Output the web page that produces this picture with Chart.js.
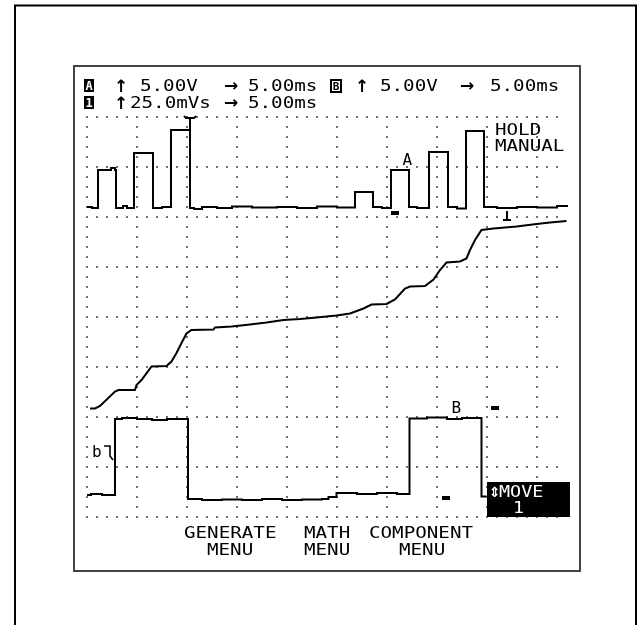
<!DOCTYPE html>
<html><head><meta charset="utf-8">
<script src="https://cdn.jsdelivr.net/npm/chart.js@4"></script>
<style>html,body{margin:0;padding:0;background:#fff;overflow:hidden}canvas{display:block}</style>
</head><body>
<canvas id="c" width="638" height="625"></canvas>
<script>
// axis ranges in screen divisions
const xRange = [0, 9.6];
const yRange = [0, 8];
const gridX = [0, 1, 2, 3, 4, 5, 6, 7, 8, 9];
const gridY = [0, 1, 2, 3, 4, 5, 6, 7, 8];

// Trace A (step levels, each level starts at x)
const traceA_x = [0, 0.10, 0.22, 0.48, 0.56, 0.58, 0.72, 0.80, 0.94, 1.32, 1.50, 1.68, 2.06, 2.14, 2.30, 2.60, 2.90, 3.30, 3.80, 4.20, 4.60, 5.00, 5.36, 5.72, 5.90, 6.08, 6.44, 6.60, 6.84, 7.22, 7.40, 7.58, 7.94, 8.20, 8.60, 9.00, 9.40, 9.60];
const traceA_y = [6.20, 6.18, 6.94, 6.98, 6.94, 6.18, 6.22, 6.18, 7.28, 6.18, 6.20, 7.74, 6.18, 6.16, 6.20, 6.18, 6.21, 6.19, 6.20, 6.18, 6.21, 6.19, 6.50, 6.20, 6.18, 6.94, 6.20, 6.18, 7.30, 6.20, 6.17, 7.72, 6.20, 6.18, 6.20, 6.19, 6.22, 6.24];

// Trace 1 (integral ramp)
const ramp_x = [0.06, 0.16, 0.26, 0.56, 0.63, 0.96, 0.99, 1.09, 1.29, 1.59, 1.69, 1.79, 1.89, 1.99, 2.09, 2.53, 2.56, 2.89, 3.26, 3.59, 3.93, 4.26, 4.59, 4.99, 5.26, 5.53, 5.69, 5.99, 6.16, 6.36, 6.46, 6.76, 6.93, 7.06, 7.19, 7.46, 7.59, 7.66, 7.76, 7.89, 8.13, 8.59, 8.99, 9.26, 9.59];
const ramp_y = [2.17, 2.17, 2.22, 2.51, 2.54, 2.54, 2.64, 2.74, 3.01, 3.02, 3.11, 3.28, 3.48, 3.67, 3.74, 3.75, 3.79, 3.81, 3.85, 3.89, 3.94, 3.96, 3.99, 4.03, 4.07, 4.17, 4.25, 4.26, 4.35, 4.57, 4.61, 4.62, 4.75, 4.94, 5.09, 5.11, 5.17, 5.34, 5.54, 5.74, 5.77, 5.81, 5.86, 5.89, 5.92];

// Trace B (step levels)
const traceB_x = [0, 0.08, 0.30, 0.56, 0.70, 1.00, 1.30, 1.60, 2.02, 2.30, 2.70, 3.10, 3.50, 3.90, 4.30, 4.70, 4.83, 4.99, 5.40, 5.80, 6.20, 6.45, 6.80, 7.20, 7.50, 7.89, 7.99];
const traceB_y = [0.44, 0.46, 0.44, 1.96, 1.98, 1.96, 1.94, 1.96, 0.36, 0.34, 0.35, 0.34, 0.36, 0.34, 0.35, 0.36, 0.40, 0.48, 0.46, 0.48, 0.46, 1.97, 1.99, 1.96, 1.98, 0.41, 0.41];

// markers (division coordinates)
const markerT = {x: 2.06, yTop: 7.98, yFrom: 7.74};
const triggerBars = [[6.08, 6.12, 6.24, 6.04], [8.08, 2.22, 8.24, 2.14], [7.10, 0.42, 7.26, 0.34]];
const trigT = {x: 8.40, y1: 6.12, y2: 5.94, half: 0.08};
const labelA = {t: 'A', x: 6.31, y: 7.04};
const labelB = {t: 'B', x: 7.29, y: 2.08};
const labelHold = [{t: 'HOLD', x: 8.16, y: 7.64}, {t: 'MANUAL', x: 8.16, y: 7.32}];

const pts = (xs, ys) => xs.map((x, i) => ({x, y: ys[i]}));
const FONT = '16px "DejaVu Sans Mono", "Liberation Mono", monospace';

function txt(ctx, s, x, y, color, sx, font) {
  ctx.save();
  ctx.fillStyle = color || '#000';
  ctx.font = font || FONT;
  ctx.textBaseline = 'alphabetic';
  ctx.textAlign = 'left';
  ctx.translate(x, y);
  ctx.scale(sx || 1.2, 1);
  ctx.fillText(s, 0, 0);
  ctx.restore();
}
const ARROW = 'bold 17px "DejaVu Sans"';

const scopePlugin = {
  id: 'scope',
  beforeDraw(chart) {
    const ctx = chart.ctx;
    ctx.save();
    ctx.fillStyle = '#fff';
    ctx.fillRect(0, 0, chart.width, chart.height);
    ctx.strokeStyle = '#000';
    ctx.lineWidth = 2;
    ctx.beginPath();
    ctx.moveTo(15, 630); ctx.lineTo(15, 5.5); ctx.lineTo(636, 5.5); ctx.lineTo(636, 630);
    ctx.stroke();
    ctx.strokeStyle = '#444';
    ctx.lineWidth = 2;
    ctx.strokeRect(74, 66, 506, 505);
    ctx.restore();
  },
  beforeDatasetsDraw(chart) {
    const ctx = chart.ctx, sx = chart.scales.x, sy = chart.scales.y;
    ctx.save();
    ctx.fillStyle = '#6e6e6e';
    const top = sy.getPixelForValue(8), bot = sy.getPixelForValue(0);
    const left = sx.getPixelForValue(0), right = sx.getPixelForValue(9.4);
    gridX.forEach(v => {
      const px = Math.round(sx.getPixelForValue(v));
      for (let y = top; y <= bot + 0.5; y += 10) ctx.fillRect(px - 1, Math.round(y) - 1, 2, 2);
    });
    gridY.forEach(v => {
      const py = Math.round(sy.getPixelForValue(v));
      for (let x = left; x <= right + 0.5; x += 10) ctx.fillRect(Math.round(x) - 1, py - 1, 2, 2);
    });
    ctx.restore();
  },
  afterDatasetsDraw(chart) {
    const ctx = chart.ctx, sx = chart.scales.x, sy = chart.scales.y;
    const X = v => sx.getPixelForValue(v), Y = v => sy.getPixelForValue(v);
    ctx.save();
    ctx.strokeStyle = '#000';
    ctx.fillStyle = '#000';
    ctx.lineWidth = 2;
    ctx.beginPath();
    ctx.moveTo(X(markerT.x), Y(markerT.yFrom));
    ctx.lineTo(X(markerT.x), Y(markerT.yTop));
    ctx.moveTo(X(markerT.x) - 6, Y(markerT.yTop) - 2);
    ctx.lineTo(X(markerT.x) - 4, Y(markerT.yTop));
    ctx.lineTo(X(markerT.x) + 4, Y(markerT.yTop));
    ctx.lineTo(X(markerT.x) + 6, Y(markerT.yTop) - 2);
    ctx.stroke();
    triggerBars.forEach(b => ctx.fillRect(X(b[0]), Y(b[1]), X(b[2]) - X(b[0]), Y(b[3]) - Y(b[1])));
    ctx.beginPath();
    ctx.moveTo(X(trigT.x), Y(trigT.y1));
    ctx.lineTo(X(trigT.x), Y(trigT.y2));
    ctx.moveTo(X(trigT.x - trigT.half), Y(trigT.y2));
    ctx.lineTo(X(trigT.x + trigT.half), Y(trigT.y2));
    ctx.stroke();
    txt(ctx, labelA.t, X(labelA.x), Y(labelA.y), '#000', 1.0);
    txt(ctx, labelB.t, X(labelB.x), Y(labelB.y), '#000', 1.0);
    labelHold.forEach(l => txt(ctx, l.t, X(l.x), Y(l.y)));
    txt(ctx, 'b', 92, 457, '#000', 1.0);
    ctx.lineWidth = 1.6;
    ctx.beginPath();
    ctx.moveTo(104, 446); ctx.lineTo(110, 446); ctx.lineTo(110, 456); ctx.lineTo(113, 460);
    ctx.stroke();

    // header
    ctx.fillStyle = '#000';
    ctx.fillRect(84, 79, 10, 13);
    ctx.fillRect(84, 96, 10, 13);
    ctx.save(); ctx.font = 'bold 12px "DejaVu Sans Mono"'; ctx.fillStyle = '#fff'; ctx.textAlign = 'center';
    ctx.fillText('A', 89, 90); ctx.fillText('1', 89, 107); ctx.restore();
    txt(ctx, '↑', 114, 92, '#000', 1, ARROW);
    txt(ctx, '5.00V', 140, 91);
    txt(ctx, '→', 224, 91, '#000', 1, ARROW);
    txt(ctx, '5.00ms', 248, 91);
    ctx.lineWidth = 2;
    ctx.strokeRect(331, 80, 10, 12);
    ctx.save(); ctx.font = 'bold 11px "DejaVu Sans Mono"'; ctx.fillStyle = '#000'; ctx.textAlign = 'center';
    ctx.fillText('B', 336, 90); ctx.restore();
    txt(ctx, '↑', 355, 92, '#000', 1, ARROW);
    txt(ctx, '5.00V', 380, 91);
    txt(ctx, '→', 460, 91, '#000', 1, ARROW);
    txt(ctx, '5.00ms', 490, 91);
    txt(ctx, '↑', 114, 109, '#000', 1, ARROW);
    txt(ctx, '25.0mVs', 130, 108);
    txt(ctx, '→', 224, 108, '#000', 1, ARROW);
    txt(ctx, '5.00ms', 248, 108);

    txt(ctx, 'GENERATE', 184, 538);
    txt(ctx, 'MENU', 207, 555);
    txt(ctx, 'MATH', 304, 538);
    txt(ctx, 'MENU', 304, 555);
    txt(ctx, 'COMPONENT', 369, 538);
    txt(ctx, 'MENU', 399, 555);

    ctx.fillStyle = '#000';
    ctx.fillRect(487, 482, 83, 35);
    txt(ctx, '⇕', 489, 497, '#fff', 1, 'bold 14px "DejaVu Sans"');
    txt(ctx, 'MOVE', 499, 497, '#fff', 1.15);
    txt(ctx, '1', 513, 513, '#fff', 1.15);
    ctx.restore();
  }
};

new Chart(document.getElementById('c'), {
  type: 'line',
  data: {
    datasets: [
      {data: pts(traceA_x, traceA_y), stepped: 'before'},
      {data: pts(ramp_x, ramp_y)},
      {data: pts(traceB_x, traceB_y), stepped: 'before'}
    ].map(d => Object.assign({borderColor: '#000', borderWidth: 2, pointRadius: 0, fill: false, tension: 0, clip: false}, d))
  },
  options: {
    responsive: false,
    devicePixelRatio: 1,
    animation: false,
    events: [],
    layout: {padding: {left: 87, right: 71, top: 117, bottom: 108}},
    plugins: {legend: {display: false}, tooltip: {enabled: false}},
    scales: {
      x: {type: 'linear', min: xRange[0], max: xRange[1], display: false},
      y: {type: 'linear', min: yRange[0], max: yRange[1], display: false}
    }
  },
  plugins: [scopePlugin]
});
</script>
</body></html>
